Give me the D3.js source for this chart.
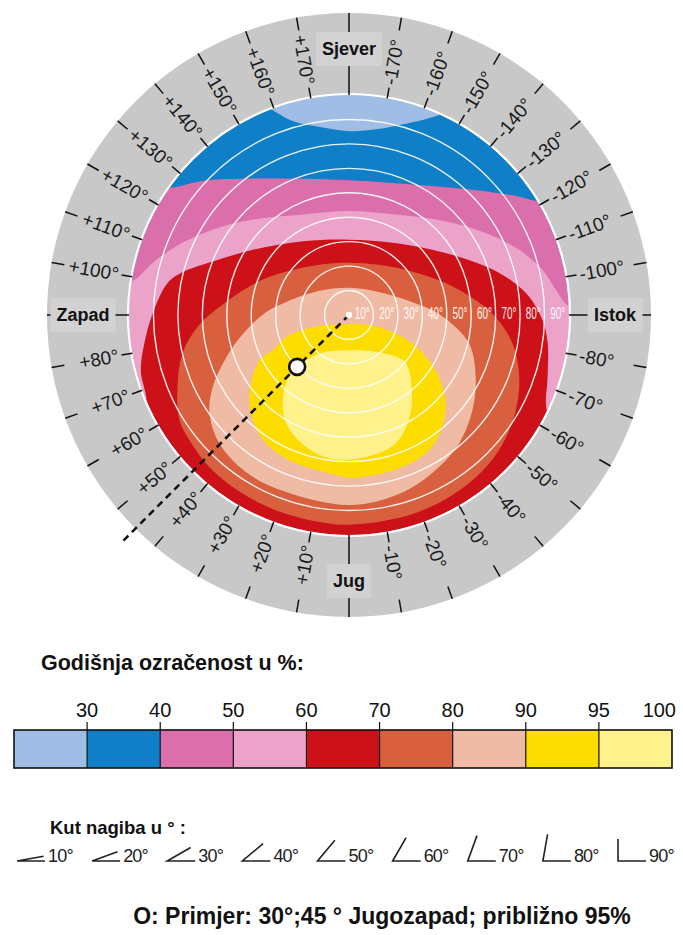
<!DOCTYPE html>
<html><head><meta charset="utf-8">
<script src="https://cdn.jsdelivr.net/npm/d3@7"></script>
<style>body{margin:0;background:#fff}text{font-family:"Liberation Sans",Arial,sans-serif}</style>
</head><body>
<svg id="c" width="683" height="935"></svg>
<script>
// ---------------- DATA ----------------
// tilt circles (degrees of tilt, 0 = horizontal at centre, 90 = vertical at rim)
const tiltCircles = [10, 20, 30, 40, 50, 60, 70, 80, 90];
// azimuth ticks (deg): + = west, - = east, 0 = south, 180 = north
const azimuthTicks = [-170,-160,-150,-140,-130,-120,-110,-100,-90,-80,-70,-60,-50,-40,-30,-20,-10,0,10,20,30,40,50,60,70,80,90,100,110,120,130,140,150,160,170,180];
const cardinalAz = [180, 0, 90, -90];
const cardinalNames = ["Sjever", "Jug", "Zapad", "Istok"];

// annual irradiation class breaks (%) and colours
const legendBreaks = [30, 40, 50, 60, 70, 80, 90, 95, 100];
const legendColors = ["#a0bee5", "#0f7fc8", "#da6fab", "#eba3c9", "#cc1218", "#d9603f", "#efbba5", "#fddc00", "#fff18b"];

// iso-irradiation contours as [azimuth°, tilt°]
// open contours (region lies on the south side, closed outside the rim)
const zone40 = [[158,93],[163.8,82.6],[171.2,77.8],[180,75.2],[-171.1,77],[-161.8,83],[-156.5,88.7],[-154,93]];
const zone50 = [[124,95],[125.3,90.1],[132.5,81.2],[144.8,68.3],[161.4,58.8],[180,55.1],[-154.3,59.3],[-138.1,69.4],[-126.2,82.9],[-120.9,90.7],[-120,95]];
const zone60 = [[97,95],[98.6,90.2],[100.4,87.3],[104.8,83.2],[111.6,76.2],[122,65.8],[134.8,55.4],[155.4,45.2],[180,42.5],[-155.3,45.2],[-134.2,55],[-121,65.2],[-111,74.5],[-103.1,81.3],[-96.9,85.3],[-92.6,89.3],[-91,95]];
const zone70 = [[63,95],[67,90],[75.1,88.1],[83.9,83.6],[91.5,79.8],[99.9,75.4],[104,70.9],[111.4,59.9],[124.2,47.5],[148.1,35.5],[180,30.8],[-147.3,35],[-122.7,46.9],[-109.6,59.3],[-101.6,68.3],[-95.8,74.1],[-88.5,79.2],[-81.9,82.1],[-72.7,85.1],[-65.1,88.9],[-61,95]];
// closed contours
const zone80 = [[180,21.4],[-149.6,23.8],[-124.6,31.3],[-108.3,41.6],[-97.8,50.9],[-90,59.2],[-80.1,67.9],[-70,74.1],[-60.2,78.6],[-50.3,82],[-40.4,84],[-29.4,85],[-16.3,85.5],[0,85.8],[10,85.5],[21.8,85.3],[31.7,85],[42.6,84.5],[51.7,83],[58.4,81.5],[67.2,76.1],[77,69.9],[85.6,62.1],[95.4,51.2],[109.9,39.8],[124.8,31.2],[149.9,23.8]];
const zone90 = [[180,11.1],[-128.1,15.3],[-101.7,26.3],[-90,37.4],[-76.7,50.4],[-63.9,57.7],[-52.3,63.8],[-40.4,69.3],[-30.5,72.3],[-20.1,75.1],[-9,77],[0,77.7],[9.5,77.1],[17.3,76.8],[28.3,77.1],[38.6,76.2],[47.4,73.9],[55.7,69.2],[61.8,63.4],[66.9,57.6],[77.3,46.6],[91.2,34.5],[101.8,26.2],[129.6,15.5]];
const zone95 = [[0,3.7],[-67.7,13],[-65.7,28.3],[-57.4,42],[-48.5,52.7],[-39.7,59.7],[-30.4,64.4],[-19.2,66],[-8.1,66.4],[0,66.6],[10.6,64.8],[22.1,64.3],[32.7,62.6],[42.3,58.4],[51.7,51.9],[63.2,41],[65.2,34.3],[70.8,27.1],[70.6,14.8]];
const zone100 = [[0,14.4],[-38.4,19.4],[-50,30],[-38.7,41.2],[-29.5,49.6],[-19.7,56],[-6.4,58.6],[6.3,59.3],[17.8,56.8],[29.9,51.3],[38.8,43.1],[45.4,32.2],[37.1,19.7]];

// example: 30° tilt, 45° south-west
const exampleTilt = 30, exampleAz = 45;
const exampleLineLength = 131; // tilt-equivalent length of dashed guide

// slope angle icons
const slopeAngles = [10, 20, 30, 40, 50, 60, 70, 80, 90];

// ---------------- DRAW ----------------
const svg = d3.select("#c");
const cx = 349, cy = 315, R = 220, ringR = 302;
const rScale = d3.scaleLinear().domain([0, 90]).range([0, R]);
const rad = d => d * Math.PI / 180;
function polar(az, r) { const a = rad(az); return [cx - r * Math.sin(a), cy + r * Math.cos(a)]; }
const proj = (az, tilt) => polar(az, rScale(tilt));

// ring
svg.append("circle").attr("cx", cx).attr("cy", cy).attr("r", ringR).attr("fill", "#c8c8c8");

// disk
const defs = svg.append("defs");
defs.append("clipPath").attr("id", "disk").append("circle").attr("cx", cx).attr("cy", cy).attr("r", R);
const g = svg.append("g").attr("clip-path", "url(#disk)");
g.append("circle").attr("cx", cx).attr("cy", cy).attr("r", R).attr("fill", legendColors[0]);

const openLine = d3.line().curve(d3.curveCatmullRom.alpha(0.5));
const closedLine = d3.line().curve(d3.curveCatmullRomClosed.alpha(0.5));
function openZone(pts) {
  let s = openLine(pts.map(d => proj(d[0], d[1])));
  const a0 = pts[pts.length - 1][0];
  let a1 = pts[0][0]; if (a1 <= a0) a1 += 360;
  const outer = [];
  for (let a = a0; a < a1; a += 10) outer.push(proj(a, 140));
  outer.push(proj(a1, 140));
  return s + outer.map(q => "L" + q[0] + "," + q[1]).join("") + "Z";
}
const closedZone = pts => closedLine(pts.map(d => proj(d[0], d[1])));

[[zone40, 1, true], [zone50, 2, true], [zone60, 3, true], [zone70, 4, true],
 [zone80, 5, false], [zone90, 6, false], [zone95, 7, false], [zone100, 8, false]].forEach(([pts, ci, open]) => {
  g.append("path").attr("d", open ? openZone(pts) : closedZone(pts)).attr("fill", legendColors[ci]);
});

// tilt circles
svg.append("g").selectAll("circle").data(tiltCircles.slice(0, -1)).join("circle")
  .attr("cx", cx).attr("cy", cy).attr("r", d => rScale(d))
  .attr("fill", "none").attr("stroke", "#fff").attr("stroke-width", 1.4).attr("opacity", 0.9);
svg.append("circle").attr("cx", cx).attr("cy", cy).attr("r", R + 1)
  .attr("fill", "none").attr("stroke", "#fff").attr("stroke-width", 2.2);

// tilt labels
svg.append("g").selectAll("text").data(tiltCircles).join("text")
  .attr("transform", d => `translate(${cx + rScale(d - 5) + 1},${cy + 4}) scale(0.62,1)`)
  .attr("text-anchor", "middle").attr("font-size", 16).attr("fill", "#fff").attr("opacity", 0.92)
  .text(d => d + "°");

// azimuth ticks and labels
const ring = svg.append("g");
azimuthTicks.forEach(az => {
  const ci = cardinalAz.indexOf(az);
  if (ci >= 0) {
    const name = cardinalNames[ci];
    const [tx, ty] = polar(az, 266);
    const t = ring.append("text").attr("x", tx).attr("y", ty).attr("text-anchor", "middle")
      .attr("dominant-baseline", "central").attr("font-size", 18).attr("font-weight", "bold")
      .attr("fill", "#111").text(name);
    const bb = t.node().getBBox();
    const padX = 6, padY = 7;
    ring.insert("rect", "text").attr("x", bb.x - padX).attr("y", bb.y - padY)
      .attr("width", bb.width + 2 * padX).attr("height", bb.height + 2 * padY).attr("fill", "#d2d2d2");
    const half = (az === 0 || az === 180) ? bb.height / 2 + padY : bb.width / 2 + padX;
    [[R, 266 - half], [266 + half, ringR]].forEach(([r0, r1]) => {
      if (r1 - r0 < 1) return;
      const p0 = polar(az, r0), p1 = polar(az, r1);
      ring.append("line").attr("x1", p0[0]).attr("y1", p0[1]).attr("x2", p1[0]).attr("y2", p1[1])
        .attr("stroke", "#111").attr("stroke-width", 1.5);
    });
    return;
  }
  [[R, 231], [289, ringR]].forEach(([r0, r1]) => {
    const p0 = polar(az, r0), p1 = polar(az, r1);
    ring.append("line").attr("x1", p0[0]).attr("y1", p0[1]).attr("x2", p1[0]).attr("y2", p1[1])
      .attr("stroke", "#111").attr("stroke-width", 1.5);
  });
  const a = rad(az);
  const west = az > 0;
  const rot = west ? Math.atan2(-Math.cos(a), Math.sin(a)) : Math.atan2(Math.cos(a), -Math.sin(a));
  const [tx, ty] = polar(az, 234);
  ring.append("text")
    .attr("transform", `translate(${tx},${ty}) rotate(${rot * 180 / Math.PI})`)
    .attr("text-anchor", west ? "end" : "start").attr("dominant-baseline", "central")
    .attr("font-size", 19).attr("fill", "#1a1a1a")
    .text((west ? "+" : "-") + Math.abs(az) + "°");
});

// example guide line and marker
const pEnd = proj(exampleAz, exampleLineLength);
svg.append("line").attr("x1", cx).attr("y1", cy).attr("x2", pEnd[0]).attr("y2", pEnd[1])
  .attr("stroke", "#111").attr("stroke-width", 2.6).attr("stroke-dasharray", "7,5");
svg.append("circle").attr("cx", cx).attr("cy", cy).attr("r", 3.2).attr("fill", "#fff");
const pEx = proj(exampleAz, exampleTilt);
svg.append("circle").attr("cx", pEx[0]).attr("cy", pEx[1]).attr("r", 8)
  .attr("fill", "#fff").attr("stroke", "#111").attr("stroke-width", 2.6);

// ---------------- LEGEND ----------------
svg.append("text").attr("x", 41).attr("y", 670).attr("font-size", 21.5).attr("font-weight", "bold")
  .attr("fill", "#111").text("Godišnja ozračenost u %:");
const lx = d3.scaleLinear().domain([0, legendBreaks.length]).range([14, 672]);
const leg = svg.append("g");
leg.selectAll("rect").data(legendColors).join("rect")
  .attr("x", (d, i) => lx(i)).attr("y", 730).attr("width", (d, i) => lx(i + 1) - lx(i)).attr("height", 38)
  .attr("fill", d => d);
leg.append("rect").attr("x", lx(0)).attr("y", 730).attr("width", lx(legendBreaks.length) - lx(0)).attr("height", 38)
  .attr("fill", "none").attr("stroke", "#111").attr("stroke-width", 1.6);
leg.selectAll("line").data(legendBreaks.slice(0, -1)).join("line")
  .attr("x1", (d, i) => lx(i + 1)).attr("x2", (d, i) => lx(i + 1)).attr("y1", 722).attr("y2", 768)
  .attr("stroke", "#111").attr("stroke-width", 1.2);
leg.selectAll("text").data(legendBreaks).join("text")
  .attr("x", (d, i) => i === legendBreaks.length - 1 ? lx(i + 1) + 4 : lx(i + 1))
  .attr("y", 717).attr("text-anchor", (d, i) => i === legendBreaks.length - 1 ? "end" : "middle")
  .attr("font-size", 20).attr("fill", "#111").text(d => d);

// slope icons
svg.append("text").attr("x", 50).attr("y", 834).attr("font-size", 18.5).attr("font-weight", "bold")
  .attr("fill", "#111").text("Kut nagiba u ° :");
const sx = d3.scalePoint().domain(slopeAngles).range([17, 618]);
const ic = svg.append("g");
slopeAngles.forEach(a => {
  const x0 = sx(a), y0 = 861, L = 28, arm = a === 90 ? 22 : 27;
  ic.append("path")
    .attr("d", `M${x0 + arm * Math.cos(rad(a))},${y0 - arm * Math.sin(rad(a))}L${x0},${y0}L${x0 + L},${y0}`)
    .attr("fill", "none").attr("stroke", "#222").attr("stroke-width", 1.6);
  ic.append("text").attr("x", x0 + L + 3).attr("y", 862).attr("font-size", 18).attr("fill", "#222")
    .attr("letter-spacing", -0.8).text(a + "°");
});

svg.append("text").attr("x", 382).attr("y", 924).attr("text-anchor", "middle").attr("font-size", 23)
  .attr("font-weight", "bold").attr("fill", "#111")
  .text("O: Primjer: " + exampleTilt + "°;" + exampleAz + " ° Jugozapad; približno 95%");
</script>
</body></html>
